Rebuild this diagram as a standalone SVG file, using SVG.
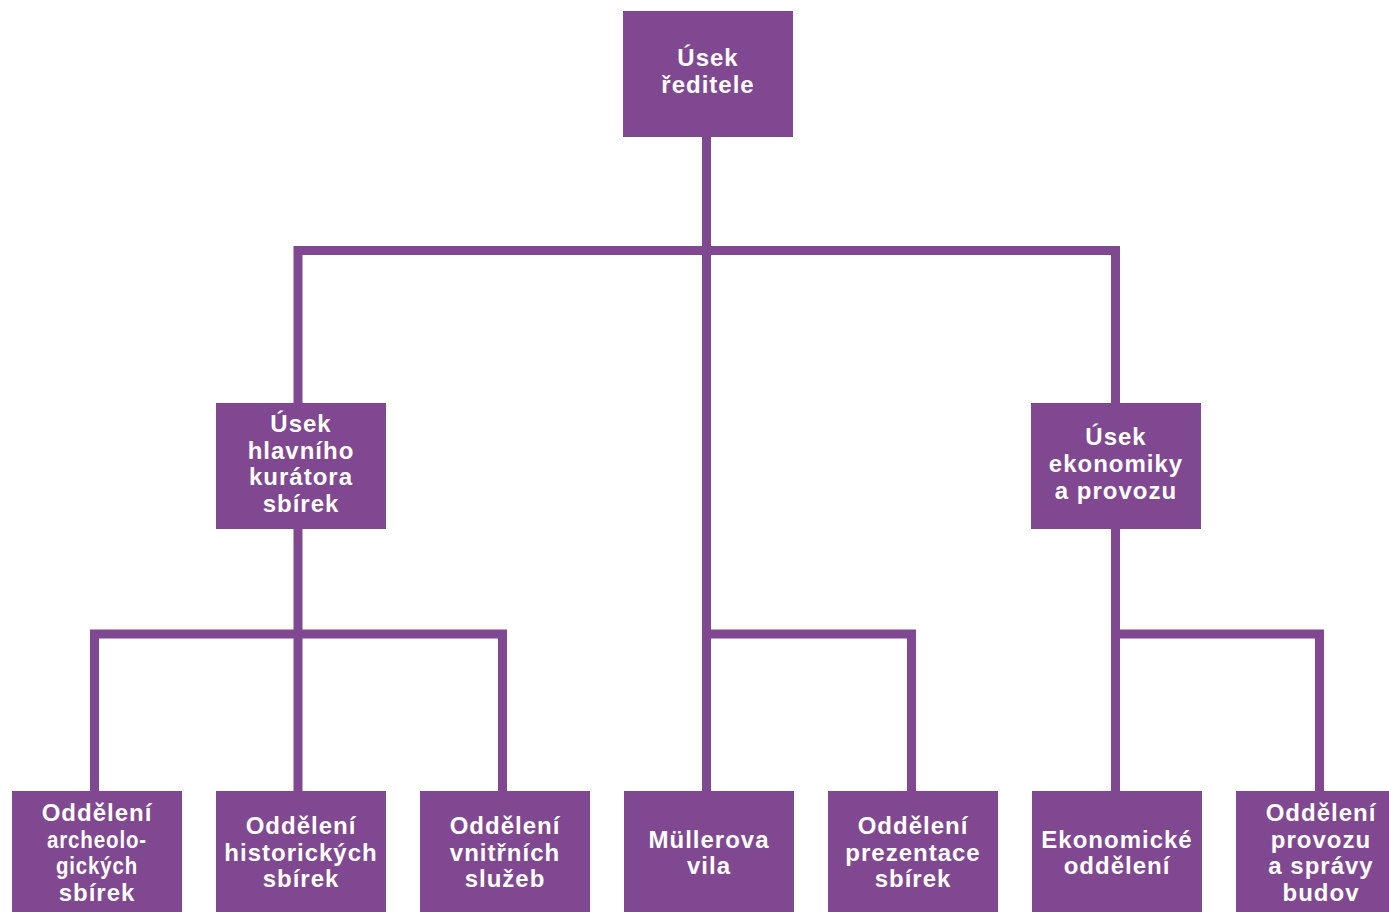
<svg xmlns="http://www.w3.org/2000/svg" width="1389" height="912" viewBox="0 0 1389 912">
<style>
.box{fill:#7F4891}
.t{fill:#fff;font-family:"Liberation Sans",Arial,sans-serif;font-weight:bold;font-size:24px;letter-spacing:1px;text-anchor:middle}
.c{fill:none;stroke:#7F4891;stroke-width:9;stroke-linejoin:miter;stroke-linecap:butt}
</style>
<rect width="1389" height="912" fill="#fff"/>
<g id="connectors">
<path class="c" d="M706.5 137V791"/>
<path class="c" d="M298 403V250.5H1115.5V403"/>
<path class="c" d="M298 529V791"/>
<path class="c" d="M94.5 791V634H502.5V791"/>
<path class="c" d="M706.5 634H911.5V791"/>
<path class="c" d="M1115.5 529V791"/>
<path class="c" d="M1115.5 634H1319.5V791"/>
</g>
<g id="n-reditel">
<rect class="box" x="623" y="11" width="170" height="126"/>
<text class="t" x="708" y="66">Úsek</text>
<text class="t" x="708" y="93">ředitele</text>
</g>
<g id="n-kurator">
<rect class="box" x="216" y="403" width="170" height="126"/>
<text class="t" x="301" y="432">Úsek</text>
<text class="t" x="301" y="459">hlavního</text>
<text class="t" x="301" y="485">kurátora</text>
<text class="t" x="301" y="512">sbírek</text>
</g>
<g id="n-ekonomika">
<rect class="box" x="1031" y="403" width="170" height="126"/>
<text class="t" x="1116" y="445">Úsek</text>
<text class="t" x="1116" y="472">ekonomiky</text>
<text class="t" x="1116" y="499">a provozu</text>
</g>
<g id="n-archeo">
<rect class="box" x="12" y="791" width="170" height="126"/>
<text class="t" x="97" y="821">Oddělení</text>
<text class="t" x="97" y="848" textLength="100" lengthAdjust="spacingAndGlyphs">archeolo-</text>
<text class="t" x="97" y="874" textLength="82" lengthAdjust="spacingAndGlyphs">gických</text>
<text class="t" x="97" y="901">sbírek</text>
</g>
<g id="n-histor">
<rect class="box" x="216" y="791" width="170" height="126"/>
<text class="t" x="301" y="834">Oddělení</text>
<text class="t" x="301" y="861">historických</text>
<text class="t" x="301" y="887">sbírek</text>
</g>
<g id="n-vnitrni">
<rect class="box" x="420" y="791" width="170" height="126"/>
<text class="t" x="505" y="834">Oddělení</text>
<text class="t" x="505" y="861">vnitřních</text>
<text class="t" x="505" y="887">služeb</text>
</g>
<g id="n-muller">
<rect class="box" x="624" y="791" width="170" height="126"/>
<text class="t" x="709" y="848">Müllerova</text>
<text class="t" x="709" y="874">vila</text>
</g>
<g id="n-prezentace">
<rect class="box" x="828" y="791" width="170" height="126"/>
<text class="t" x="913" y="834">Oddělení</text>
<text class="t" x="913" y="861">prezentace</text>
<text class="t" x="913" y="887">sbírek</text>
</g>
<g id="n-ekon-odd">
<rect class="box" x="1032" y="791" width="170" height="126"/>
<text class="t" x="1117" y="848">Ekonomické</text>
<text class="t" x="1117" y="874">oddělení</text>
</g>
<g id="n-provoz">
<rect class="box" x="1236" y="791" width="170" height="126"/>
<text class="t" x="1321" y="821">Oddělení</text>
<text class="t" x="1321" y="848">provozu</text>
<text class="t" x="1321" y="874">a správy</text>
<text class="t" x="1321" y="901">budov</text>
</g>
</svg>
